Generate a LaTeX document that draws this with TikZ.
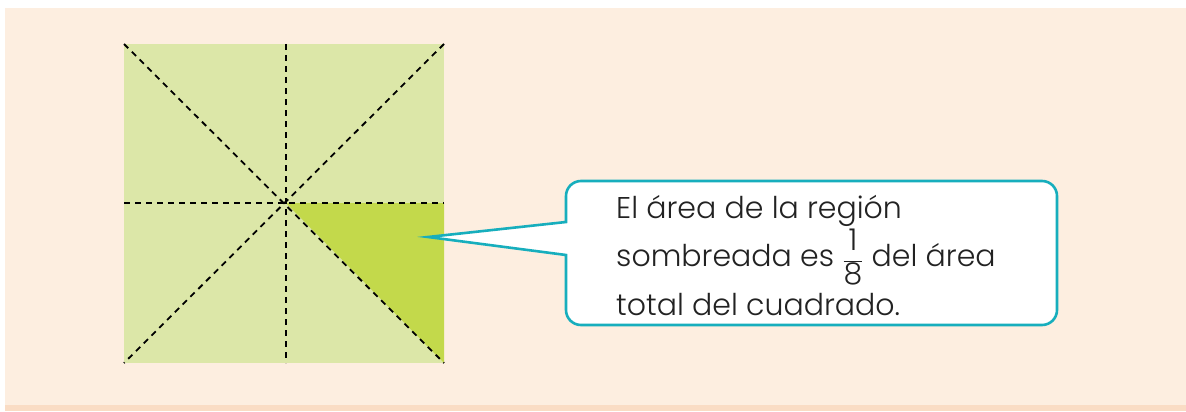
\documentclass[tikz,border=0pt]{standalone}
\usepackage{fontspec}
\setmainfont{Poppins Light}
\usepackage{tikz}
\definecolor{fondo}{HTML}{FDEEE0}
\definecolor{borde}{HTML}{FADCC4}
\definecolor{verdeclaro}{HTML}{DCE7A8}
\definecolor{verde}{HTML}{C3D94B}
\definecolor{turquesa}{HTML}{17AEBD}
\definecolor{texto}{HTML}{222222}
\tikzstyle{pliegue}=[black,dashed,line width=1.8pt,dash pattern=on 6pt off 5pt]
\tikzstyle{globo}=[draw=turquesa,fill=white,line width=2.6pt,line join=miter]
\tikzstyle{nota}=[anchor=north west,align=left,text=texto,font=\fontsize{30}{48.5}\selectfont,inner sep=0pt]

\begin{document}
\begin{tikzpicture}[x=1pt,y=-1pt]
            \useasboundingbox (0,0) rectangle (1186,412);
            \fill[white] (0,0) rectangle (1186,412);
            \fill[fondo] (5,8) rectangle (1186,406);
            \fill[borde] (5,405) rectangle (1186,411);
            % cuadrado
            \coordinate (A) at (124,44);
            \coordinate (B) at (444,44);
            \coordinate (C) at (444,363);
            \coordinate (D) at (124,363);
            \coordinate (O) at (286,203);
            \coordinate (OE) at (444,203);
            \coordinate (ON) at (286,44);
            \coordinate (OS) at (286,363);
            \coordinate (OW) at (124,203);
            \fill[verdeclaro] (A) rectangle (C);
            \fill[verde] (O) -- (OE) -- (C) -- cycle;
            \draw[pliegue] (A) -- (C);
            \draw[pliegue] (B) -- (D);
            \draw[pliegue] (ON) -- (OS);
            \draw[pliegue] (OW) -- (OE);
            % globo
            \coordinate (punta) at (428,237);
            \draw[globo] (566,222) [rounded corners=15pt] -- (566,181) -- (1057,181)
                -- (1057,325) -- (566,325) [sharp corners] -- (566,255) -- (punta) -- cycle;
            \node[nota] (texto) at (616,195) {El área de la región\\
                sombreada es \(\displaystyle\frac{\mbox{1}}{\mbox{8}}\) del área\\
                total del cuadrado.};
        \end{tikzpicture}
\end{document}
